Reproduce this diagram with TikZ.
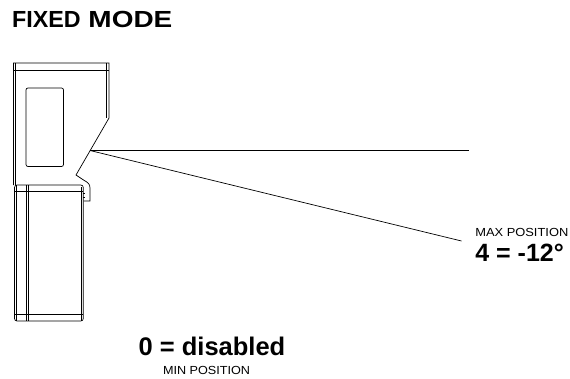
\documentclass[tikz,border=0pt]{standalone}
\usepackage{fontspec}
\setmainfont{Liberation Sans}
\usepackage{tikz}

\begin{document}
\begin{tikzpicture}[x=1pt,y=-1pt,line width=0.7pt,
    body/.style={draw,black},
    lbl/.style={anchor=base west,inner sep=0pt}]
    \useasboundingbox (0,0) rectangle (570,378);
    % upper housing
    \draw[body] (13.5,185) -- (13.5,63) -- (109,63) -- (109,118) -- (76,175) -- (83.5,180)
        .. controls (88,182.5) and (90,184) .. (90,188) -- (90,201) -- (83.5,201);
    \draw[body] (15.8,63) -- (15.8,185);
    \draw[body] (106.5,63) -- (106.5,118);
    \draw[body] (13.5,70.5) -- (109,70.5);
    \draw[body,rounded corners=2pt] (26,88) rectangle (63.5,166.5);
    % lower housing
    \draw[body,rounded corners=2.5pt] (14.5,321) -- (14.5,185) -- (83.3,185) -- (83.3,321) -- cycle;
    \draw[body] (16.3,185) -- (16.3,321);
    \draw[body] (81.5,187) -- (81.5,321);
    \draw[body] (14.5,191.5) -- (83.3,191.5);
    \draw[body] (26.5,185) -- (26.5,321);
    \draw[body] (28,185) -- (28,321);
    \draw[body] (14.5,314.5) -- (83.3,314.5);
    \draw[body,line width=0.5pt] (83.3,193) -- (85,193) (83.3,197) -- (85,197);
    % beams
    \coordinate (src) at (90,150.5);
    \coordinate (far) at (469,150.5);
    \coordinate (tilt) at (461.5,241);
    \draw[body] (src) -- (far);
    \draw[body] (src) -- (tilt);
    % labels
    \node[lbl] (title) at (11.8,27.7) {\fontsize{23.3}{26}\selectfont\bfseries FIXED\hspace{7.7pt}\scalebox{1.2}[1]{MODE}};
    \node[lbl] (maxlbl) at (475,236.7) {\fontsize{11.7}{14}\selectfont\scalebox{1.1}[1]{MAX POSITION}};
    \node[lbl] (maxval) at (475,261) {\fontsize{25}{28}\selectfont\bfseries 4 = -12°};
    \node[lbl] (minval) at (138.3,355) {\fontsize{25.5}{28}\selectfont\bfseries 0 = disabled};
    \node[lbl] (minlbl) at (162.7,374) {\fontsize{11.7}{14}\selectfont\scalebox{1.08}[1]{MIN POSITION}};
\end{tikzpicture}
\end{document}
